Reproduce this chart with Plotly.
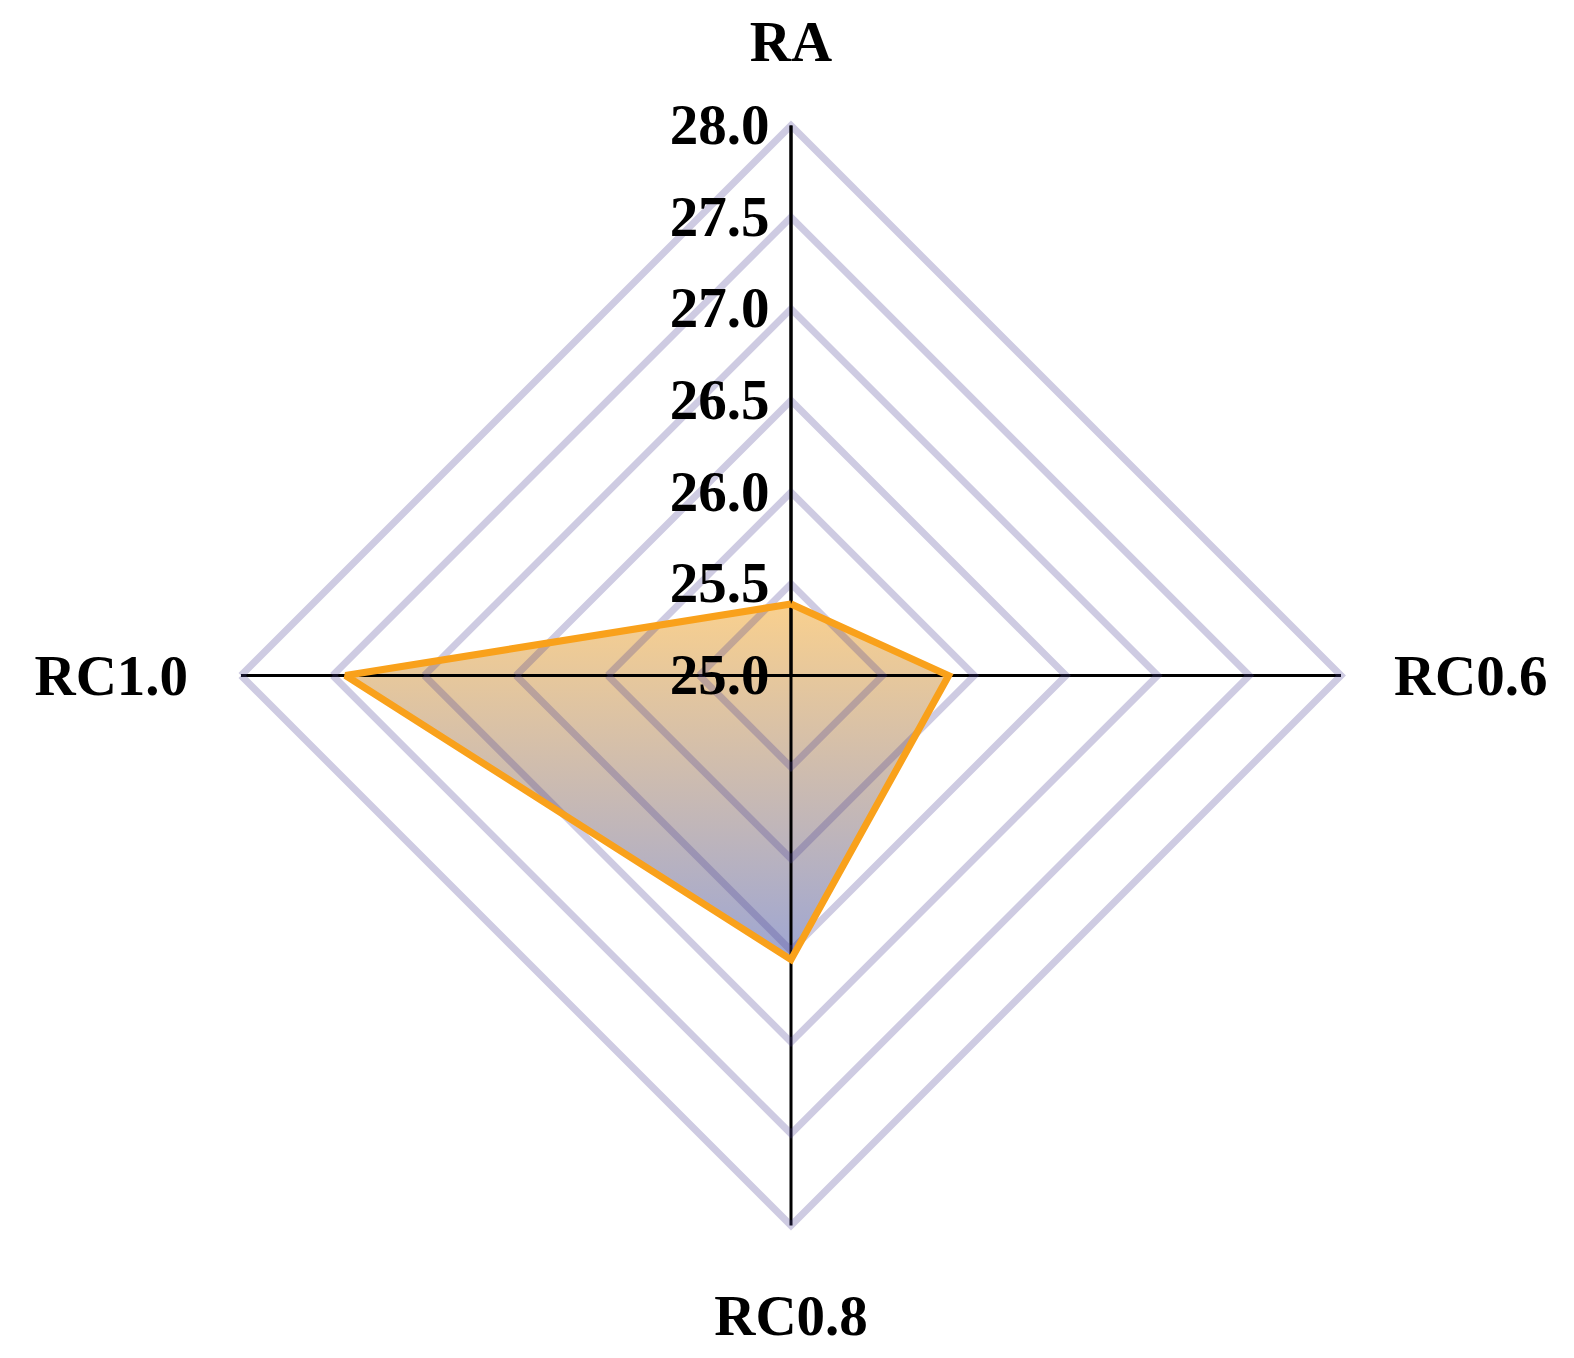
import math
import plotly.graph_objects as go

categories = ["RA", "RC0.6", "RC0.8", "RC1.0"]
values = [25.39, 25.86, 26.55, 27.43]
tick_vals = [25.0, 25.5, 26.0, 26.5, 27.0, 27.5, 28.0]
tick_text = ["25.0", "25.5", "26.0", "26.5", "27.0", "27.5", "28.0"]

r_min, r_max = 25.0, 28.0

# polar box in figure px (page has an 8px body margin)
W, H = 1574, 1358
cx, cy, rad = 783, 667.5, 550
dom_x = [(cx - rad) / W, (cx + rad) / W]
dom_y = [1 - (cy + rad) / H, 1 - (cy - rad) / H]

orange = "#f9a11b"
grid_col = "rgba(80,70,150,0.28)"
bold_font = dict(family="Liberation Serif", size=57, color="black", weight="bold")

theta = categories + categories[:1]
r = values + values[:1]

# scatterpolar has no fillgradient, so the gradient fill sits on a cartesian
# overlay that shares the polar box (clockwise, first category at the top)
gx, gy = [], []
for i, v in enumerate(r):
    ang = math.radians(90 - 360 * i / len(categories))
    gx.append((v - r_min) * math.cos(ang))
    gy.append((v - r_min) * math.sin(ang))

fig = go.Figure()
fig.add_trace(go.Scatter(
    x=gx, y=gy, mode="lines", fill="toself",
    line=dict(width=0, color="rgba(0,0,0,0)"),
    fillgradient=dict(type="vertical",
                      colorscale=[[0, "rgba(61,77,167,0.5)"], [1, "rgba(243,161,29,0.5)"]]),
    hoverinfo="skip",
))
fig.add_trace(go.Scatterpolar(
    r=r, theta=theta, mode="lines",
    line=dict(color=orange, width=7),
    hoverinfo="r+theta",
))

span = r_max - r_min
fig.update_layout(
    width=W, height=H,
    margin=dict(l=0, r=0, t=0, b=0),
    paper_bgcolor="white",
    plot_bgcolor="rgba(0,0,0,0)",
    showlegend=False,
    font=dict(family="Liberation Serif", color="black"),
    xaxis=dict(domain=dom_x, range=[-span, span], visible=False, fixedrange=True),
    yaxis=dict(domain=dom_y, range=[-span, span], visible=False, fixedrange=True),
    polar=dict(
        domain=dict(x=dom_x, y=dom_y),
        bgcolor="rgba(0,0,0,0)",
        gridshape="linear",
        radialaxis=dict(
            range=[r_min, r_max], angle=90, side="counterclockwise",
            tickvals=tick_vals, ticktext=tick_text, tickangle=90,
            tickfont=bold_font,
            showline=True, linecolor="black", linewidth=3,
            gridcolor=grid_col, gridwidth=7,
            ticks="", layer="below traces",
        ),
        angularaxis=dict(
            rotation=90, direction="clockwise",
            tickfont=bold_font,
            showline=True, linecolor=grid_col, linewidth=7,
            gridcolor="black", gridwidth=3,
            ticks="outside", ticklen=38, tickcolor="rgba(0,0,0,0)",
            layer="below traces",
        ),
    ),
)

fig.write_html("out.html")
